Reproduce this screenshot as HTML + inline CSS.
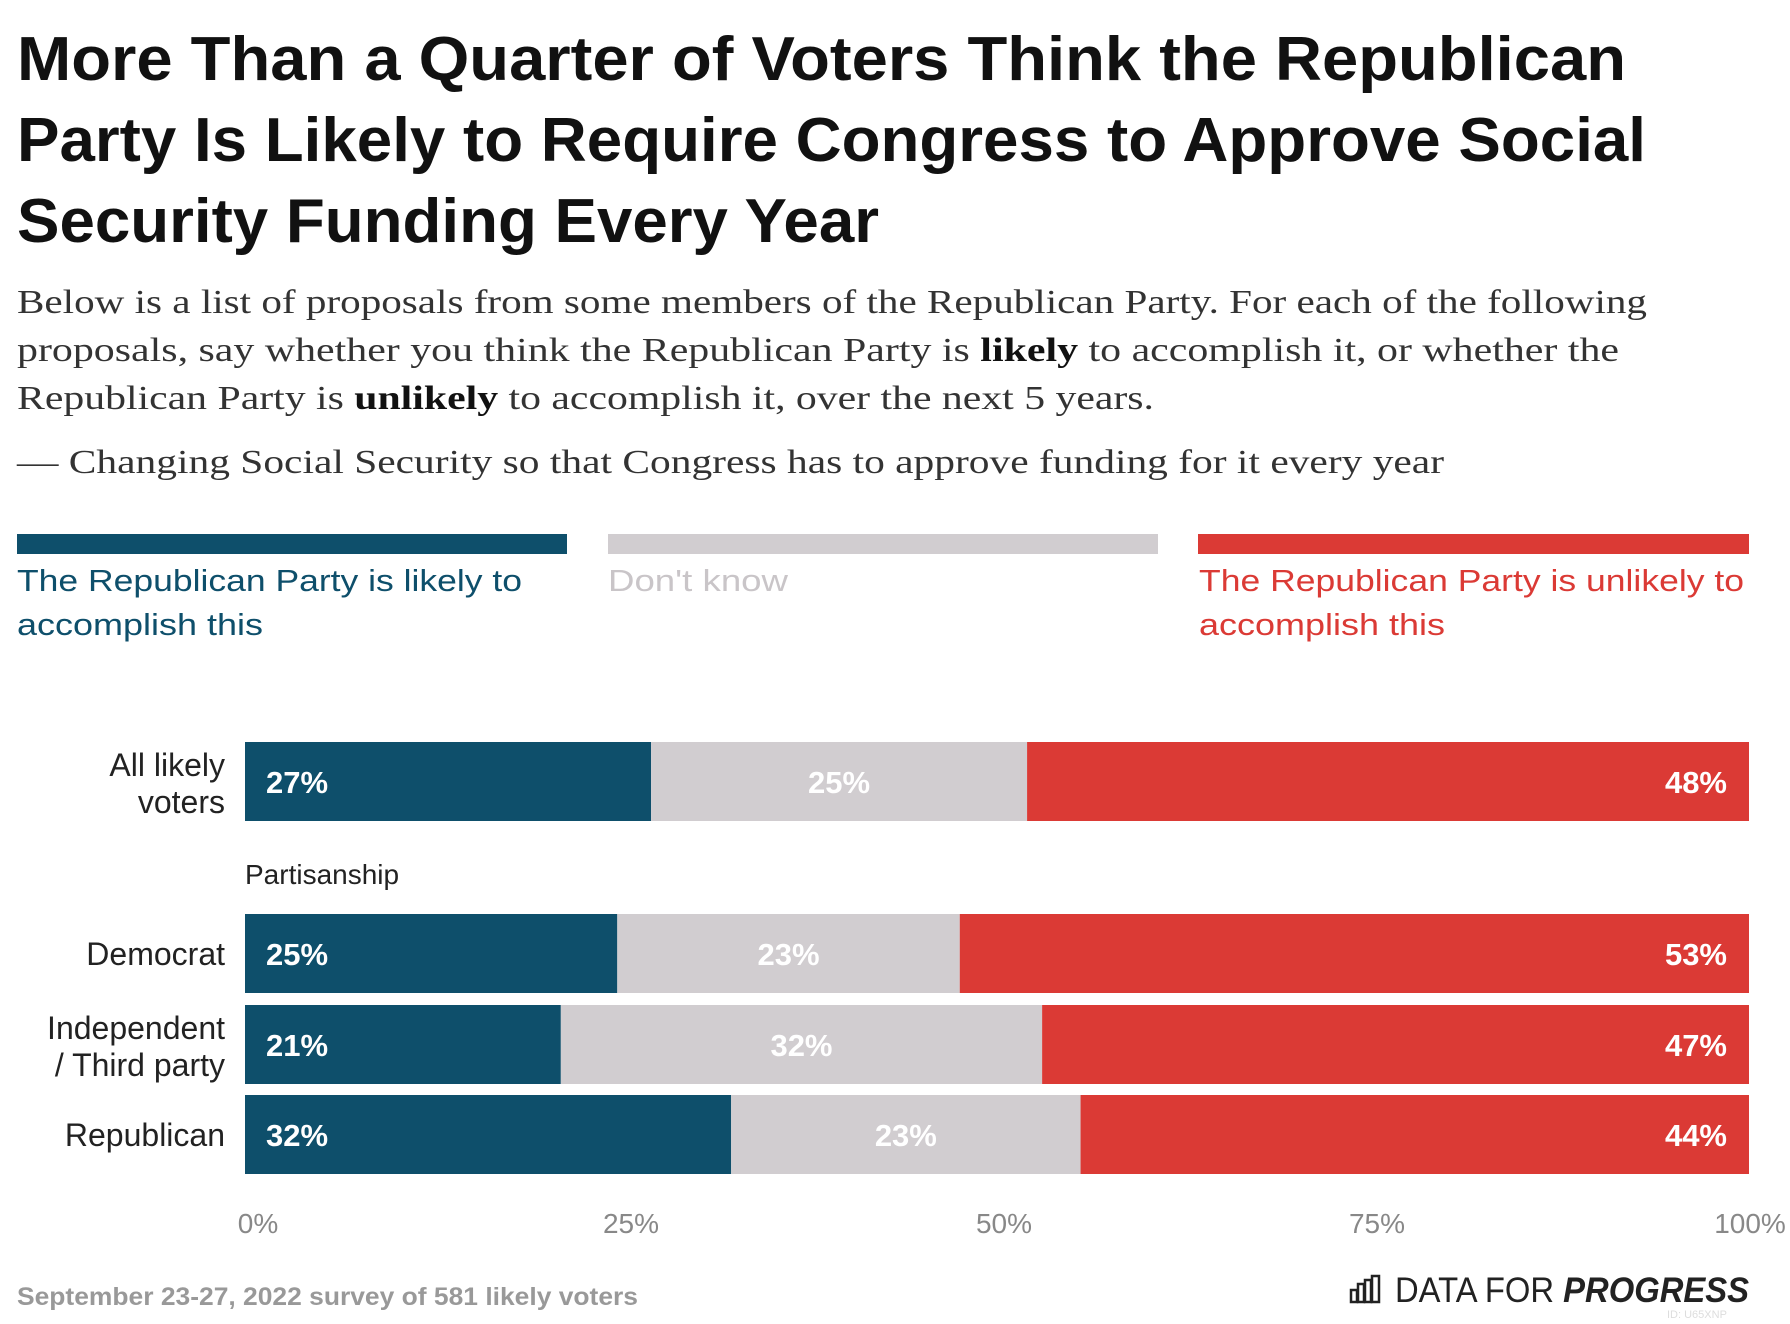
<!DOCTYPE html>
<html><head><meta charset="utf-8"><style>
html,body{margin:0;padding:0;background:#fff;}
svg{display:block;font-family:"Liberation Sans",sans-serif;}
</style></head><body>
<svg id="chart" width="1790" height="1324" viewBox="0 0 1790 1324">
<g font-weight="bold" font-size="62" fill="#111">
<text x="17" y="80" textLength="1609" lengthAdjust="spacingAndGlyphs">More Than a Quarter of Voters Think the Republican</text>
<text x="17" y="161" textLength="1629" lengthAdjust="spacingAndGlyphs">Party Is Likely to Require Congress to Approve Social</text>
<text x="17" y="242" textLength="862" lengthAdjust="spacingAndGlyphs">Security Funding Every Year</text>
</g>
<g font-family="Liberation Serif, serif" font-size="34" fill="#333">
<text x="17" y="313" textLength="1630" lengthAdjust="spacingAndGlyphs">Below is a list of proposals from some members of the Republican Party. For each of the following</text>
<text x="17" y="361" textLength="1602" lengthAdjust="spacingAndGlyphs">proposals, say whether you think the Republican Party is <tspan font-weight="bold" fill="#111">likely</tspan> to accomplish it, or whether the</text>
<text x="17" y="409" textLength="1137" lengthAdjust="spacingAndGlyphs">Republican Party is <tspan font-weight="bold" fill="#111">unlikely</tspan> to accomplish it, over the next 5 years.</text>
<text x="17" y="473" textLength="1427" lengthAdjust="spacingAndGlyphs">— Changing Social Security so that Congress has to approve funding for it every year</text>
</g>
<g font-size="31">
<rect x="17" y="534" width="550" height="20" fill="#0e4f6b"/>
<rect x="608" y="534" width="550" height="20" fill="#d1cdd0"/>
<rect x="1198" y="534" width="551" height="20" fill="#db3a35"/>
<text fill="#0e4f6b"><tspan x="17" y="591" textLength="505" lengthAdjust="spacingAndGlyphs">The Republican Party is likely to</tspan><tspan x="17" y="635" textLength="246" lengthAdjust="spacingAndGlyphs">accomplish this</tspan></text>
<text fill="#c9c5c8" x="608" y="591" textLength="180" lengthAdjust="spacingAndGlyphs">Don't know</text>
<text fill="#db3a35"><tspan x="1199" y="591" textLength="545" lengthAdjust="spacingAndGlyphs">The Republican Party is unlikely to</tspan><tspan x="1199" y="635" textLength="246" lengthAdjust="spacingAndGlyphs">accomplish this</tspan></text>
</g>
<text x="245" y="884" font-size="28" fill="#222">Partisanship</text>
<g id="bars"></g>
<g id="ticks"></g>
<text x="17" y="1305" font-size="25" font-weight="bold" fill="#999" textLength="621" lengthAdjust="spacingAndGlyphs">September 23-27, 2022 survey of 581 likely voters</text>
<g>
<g fill="none" stroke="#222" stroke-width="2.5">
<rect x="1351" y="1290" width="6" height="12"/><rect x="1358" y="1284" width="6" height="18"/><rect x="1365" y="1280" width="6" height="22"/><rect x="1372" y="1276" width="7" height="26"/>
</g>
<text x="1395" y="1302" font-size="35" fill="#222" textLength="354" lengthAdjust="spacingAndGlyphs">DATA FOR <tspan font-weight="bold" font-style="italic">PROGRESS</tspan></text>
<text x="1667" y="1318" font-size="11" fill="#ddd">ID: U65XNP</text>
</g>
</svg>
<script>
const categories = ["All likely voters","Democrat","Independent / Third party","Republican"];
const likelyVals = [27,25,21,32];
const dontKnowVals = [25,23,32,23];
const unlikelyVals = [48,53,47,44];
const tickVals = [0,25,50,75,100];
const tickLabels = ["0%","25%","50%","75%","100%"];

const NS="http://www.w3.org/2000/svg";
const X0=245, X1=1749;
function xScale(p){return X0+(X1-X0)*p/100;}
function tickX(p){return 258+(1750-258)*p/100;}
const rowTops=[742,914,1005,1095];
const rowH=79;
const labelLines=[["All likely","voters"],["Democrat"],["Independent","/ Third party"],["Republican"]];
const colors=["#0e4f6b","#d1cdd0","#db3a35"];
const segNames=["likely","dont-know","unlikely"];
const bars=document.getElementById("bars");
function mk(tag,attrs,parent){const e=document.createElementNS(NS,tag);for(const k in attrs)e.setAttribute(k,attrs[k]);parent.appendChild(e);return e;}
categories.forEach((c,i)=>{
  const vals=[likelyVals[i],dontKnowVals[i],unlikelyVals[i]];
  const tot=vals.reduce((a,b)=>a+b,0);
  let cum=0;
  const y=rowTops[i];
  const slug=c.toLowerCase().replace(/[^a-z]+/g,'-').replace(/-+$/,'');
  const lab=mk("text",{x:225,"text-anchor":"end","font-size":32,fill:"#222"},bars);
  
  
  const lines=labelLines[i];
  lines.forEach((t,j)=>{
    const ts=mk("tspan",{x:225,y:(lines.length===1? y+51 : y+34+j*37)},lab);
    ts.textContent=t;
  });
  vals.forEach((v,k)=>{
    const xa=xScale(cum/tot*100), xb=xScale((cum+v)/tot*100);
    cum+=v;
    const r=mk("rect",{x:xa,y:y,width:xb-xa,height:rowH,fill:colors[k]},bars);
    
    
    let tx,anchor;
    if(k===0){tx=xa+21;anchor="start";}else if(k===1){tx=(xa+xb)/2;anchor="middle";}else{tx=xb-22;anchor="end";}
    const t=mk("text",{x:tx,y:y+51,"text-anchor":anchor,"font-size":31,"font-weight":"bold",fill:"#fff"},bars);
    
    
    t.textContent=v+"%";
  });
});
const ticks=document.getElementById("ticks");
tickVals.forEach((v,i)=>{
  const t=mk("text",{x:tickX(v),y:1233,"text-anchor":"middle","font-size":28,fill:"#888"},ticks);
  
  
  t.textContent=tickLabels[i];
});
</script>
</body></html>
